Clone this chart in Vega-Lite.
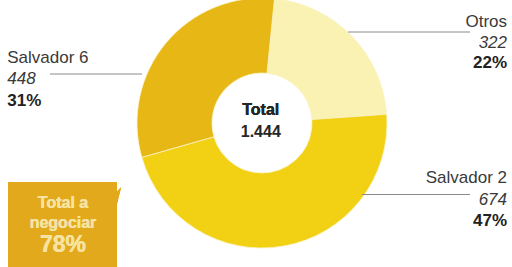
{
  "$schema": "https://vega.github.io/schema/vega-lite/v6.json",
  "width": 512,
  "height": 267,
  "padding": 0,
  "autosize": {"type": "none"},
  "background": "#ffffff",
  "config": {
    "view": {"stroke": null},
    "font": "Liberation Sans",
    "locale": {"number": {"decimal": ",", "thousands": ".", "grouping": [3], "currency": ["", " €"]}}
  },
  "data": {
    "values": [
      {"categoria": "Otros", "valor": 322, "pct": "22%", "orden": 1},
      {"categoria": "Salvador 2", "valor": 674, "pct": "47%", "orden": 2},
      {"categoria": "Salvador 6", "valor": 448, "pct": "31%", "orden": 3}
    ]
  },
  "encoding": {
    "x": {"type": "quantitative", "scale": {"domain": [-2.096, 2.0], "nice": false, "zero": false}, "axis": null},
    "y": {"type": "quantitative", "scale": {"domain": [-1.152, 0.984], "nice": false, "zero": false}, "axis": null}
  },
  "layer": [
    {
      "mark": {"type": "arc", "outerRadius": 125, "innerRadius": 50, "stroke": "#fbf3c8", "strokeWidth": 0.8},
      "encoding": {
        "x": {"datum": 0},
        "y": {"datum": 0},
        "theta": {"field": "valor", "type": "quantitative", "stack": true, "scale": {"range": [0.1, 6.3832]}},
        "order": {"field": "orden", "type": "quantitative"},
        "color": {
          "field": "categoria", "type": "nominal", "legend": null,
          "scale": {"domain": ["Otros", "Salvador 2", "Salvador 6"], "range": ["#faf2b2", "#f2d014", "#e7b715"]}
        }
      }
    },
    {
      "mark": {"type": "text", "font": "Liberation Sans", "fontSize": 16, "fontWeight": "bold", "color": "#262626", "baseline": "middle", "align": "center"},
      "encoding": {"x": {"datum": -0.01}, "y": {"datum": 0.104}, "text": {"value": "Total"}}
    },
    {
      "mark": {"type": "text", "font": "Liberation Sans", "fontSize": 16, "fontWeight": "bold", "color": "#262626", "baseline": "middle", "align": "center"},
      "encoding": {"x": {"datum": -0.01}, "y": {"datum": -0.07}, "text": {"aggregate": "sum", "field": "valor", "type": "quantitative", "format": ",d"}}
    },
    {
      "transform": [{"filter": "datum.categoria === 'Otros'"}],
      "layer": [
        {"mark": {"type": "rule", "color": "#8a8a8a", "strokeWidth": 1},
         "encoding": {"x": {"datum": 0.688}, "x2": {"datum": 1.664}, "y": {"datum": 0.728}}},
        {"mark": {"type": "text", "fontSize": 17, "color": "#3a3a3a", "align": "right", "baseline": "middle"},
         "encoding": {"x": {"datum": 1.96}, "y": {"datum": 0.808}, "text": {"field": "categoria"}}},
        {"mark": {"type": "text", "fontSize": 17, "fontStyle": "italic", "color": "#3a3a3a", "align": "right", "baseline": "middle"},
         "encoding": {"x": {"datum": 1.96}, "y": {"datum": 0.643}, "text": {"field": "valor", "type": "quantitative"}}},
        {"mark": {"type": "text", "fontSize": 17, "fontWeight": "bold", "color": "#222222", "align": "right", "baseline": "middle"},
         "encoding": {"x": {"datum": 1.96}, "y": {"datum": 0.477}, "text": {"field": "pct"}}}
      ]
    },
    {
      "transform": [{"filter": "datum.categoria === 'Salvador 2'"}],
      "layer": [
        {"mark": {"type": "rule", "color": "#8a8a8a", "strokeWidth": 1},
         "encoding": {"x": {"datum": 0.8}, "x2": {"datum": 1.664}, "y": {"datum": -0.572}}},
        {"mark": {"type": "text", "fontSize": 17, "color": "#3a3a3a", "align": "right", "baseline": "middle"},
         "encoding": {"x": {"datum": 1.96}, "y": {"datum": -0.442}, "text": {"field": "categoria"}}},
        {"mark": {"type": "text", "fontSize": 17, "fontStyle": "italic", "color": "#3a3a3a", "align": "right", "baseline": "middle"},
         "encoding": {"x": {"datum": 1.96}, "y": {"datum": -0.616}, "text": {"field": "valor", "type": "quantitative"}}},
        {"mark": {"type": "text", "fontSize": 17, "fontWeight": "bold", "color": "#222222", "align": "right", "baseline": "middle"},
         "encoding": {"x": {"datum": 1.96}, "y": {"datum": -0.782}, "text": {"field": "pct"}}}
      ]
    },
    {
      "transform": [{"filter": "datum.categoria === 'Salvador 6'"}],
      "layer": [
        {"mark": {"type": "rule", "color": "#8a8a8a", "strokeWidth": 1},
         "encoding": {"x": {"datum": -1.696}, "x2": {"datum": -0.96}, "y": {"datum": 0.392}}},
        {"mark": {"type": "text", "fontSize": 17, "color": "#3a3a3a", "align": "left", "baseline": "middle"},
         "encoding": {"x": {"datum": -2.038}, "y": {"datum": 0.518}, "text": {"field": "categoria"}}},
        {"mark": {"type": "text", "fontSize": 17, "fontStyle": "italic", "color": "#3a3a3a", "align": "left", "baseline": "middle"},
         "encoding": {"x": {"datum": -2.038}, "y": {"datum": 0.35}, "text": {"field": "valor", "type": "quantitative"}}},
        {"mark": {"type": "text", "fontSize": 17, "fontWeight": "bold", "color": "#222222", "align": "left", "baseline": "middle"},
         "encoding": {"x": {"datum": -2.038}, "y": {"datum": 0.178}, "text": {"field": "pct"}}}
      ]
    },
    {
      "mark": {"type": "rect", "color": "#e2a91d"},
      "encoding": {"x": {"datum": -2.032}, "x2": {"datum": -1.16}, "y": {"datum": -0.472}, "y2": {"datum": -1.152}}
    },
    {
      "mark": {"type": "point", "filled": true, "color": "#e2a91d", "opacity": 1, "size": 300, "strokeWidth": 0, "shape": "M -1 0.8 L 0.7 -1 L 0.2 1 Z"},
      "encoding": {"x": {"datum": -1.176}, "y": {"datum": -0.584}}
    },
    {
      "mark": {"type": "text", "fontSize": 16, "fontWeight": "bold", "color": "#f6e3a2", "align": "center", "baseline": "middle"},
      "encoding": {"x": {"datum": -1.592}, "y": {"datum": -0.64}, "text": {"value": "Total a"}}
    },
    {
      "mark": {"type": "text", "fontSize": 16, "fontWeight": "bold", "color": "#f6e3a2", "align": "center", "baseline": "middle"},
      "encoding": {"x": {"datum": -1.592}, "y": {"datum": -0.8}, "text": {"value": "negociar"}}
    },
    {
      "mark": {"type": "text", "fontSize": 23, "fontWeight": "bold", "color": "#f6e3a2", "align": "center", "baseline": "middle"},
      "encoding": {"x": {"datum": -1.592}, "y": {"datum": -0.976}, "text": {"value": "78%"}}
    }
  ]
}
